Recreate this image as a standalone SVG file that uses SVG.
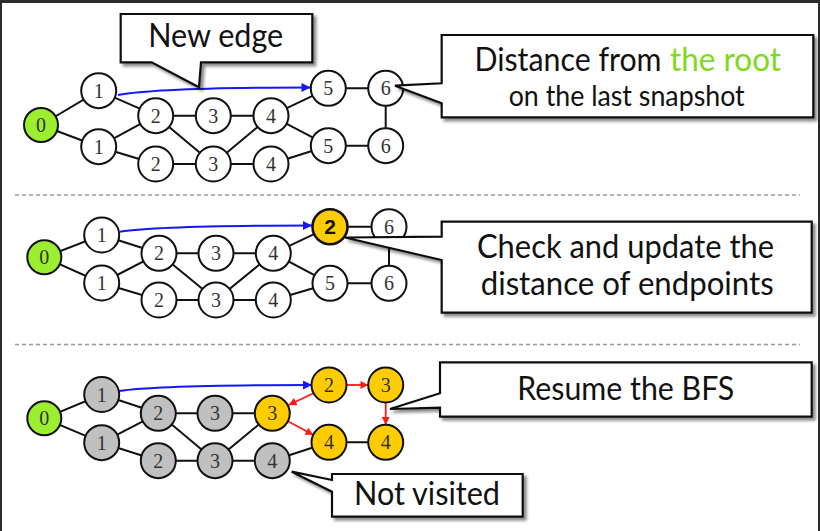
<svg xmlns="http://www.w3.org/2000/svg" width="820" height="531" viewBox="0 0 820 531">
<style>
.e{stroke:#111;stroke-width:2;fill:none}
.n{stroke:#111;stroke-width:2}
.w{fill:#fff}
.g{fill:#9bef2f}
.y{fill:#ffcc00}
.k{fill:#c0c0c0}
.t{font-family:"Liberation Serif",serif;font-size:20px;fill:#333;text-anchor:middle}
.co{fill:#fff;stroke:#111;stroke-width:2.2;stroke-linejoin:miter}
.ct{font-family:Lato,"Open Sans",sans-serif;font-size:33px;fill:#111;text-anchor:middle}
.sep{stroke:#9a9a9a;stroke-width:1.3;stroke-dasharray:4 3}
.blue{stroke:#1515ff;stroke-width:2;fill:none}
.red{stroke:#ff1a1a;stroke-width:1.8;fill:none}
</style>
<defs>
<marker id="ab" viewBox="0 0 10 10" refX="10" refY="5" markerWidth="13" markerHeight="9" markerUnits="userSpaceOnUse" orient="auto"><path d="M0,0L10,5L0,10z" fill="#1515ff"/></marker>
<marker id="ar" viewBox="0 0 10 10" refX="10" refY="5" markerWidth="11" markerHeight="8" markerUnits="userSpaceOnUse" orient="auto"><path d="M0,0L10,5L0,10z" fill="#ff1a1a"/></marker>
<filter id="sh" x="-10%" y="-10%" width="130%" height="140%"><feDropShadow dx="3" dy="3" stdDeviation="1.8" flood-color="#000" flood-opacity="0.45"/></filter>
</defs>
<rect x="0" y="0" width="820" height="531" fill="#fff"/>
<rect x="0" y="0" width="820" height="3" fill="#2b2b2b"/>
<rect x="0" y="0" width="2" height="531" fill="#2b2b2b"/>
<rect x="818" y="0" width="2" height="531" fill="#2b2b2b"/>
<g id="separators">
<line class="sep" x1="15" y1="195" x2="800" y2="195"/>
<line class="sep" x1="15" y1="344.5" x2="800" y2="344.5"/>
</g>
<g id="connectors">
<path class="e" d="M41,125L98.7,90.7M41,125L98.7,146.7M98.7,90.7L155.7,115.7M98.7,146.7L155.7,115.7M98.7,146.7L155.7,164M155.7,115.7L213.3,115.7M155.7,115.7L213.3,164M213.3,115.7L271,115.7M155.7,164L213.3,164M213.3,164L271,115.7M213.3,164L271,164M271,115.7L328.3,88.3M271,115.7L328.3,145.7M271,164L328.3,145.7M328.3,88.3L385.7,88.3M385.7,88.3L385.7,145.7M328.3,145.7L385.7,145.7"/>
<path class="blue" d="M118,95Q160,87.5 310.5,87.5" marker-end="url(#ab)"/>
<path class="e" d="M44.3,257.3L101.7,235M44.3,257.3L101.7,283M101.7,235L159,253.3M101.7,283L159,253.3M101.7,283L159,300M159,253.3L216,253.3M159,253.3L216,300M216,253.3L273.3,253.3M159,300L216,300M216,300L273.3,253.3M216,300L273.3,300M273.3,253.3L330,226.7M273.3,253.3L330,283.3M273.3,300L330,283.3M330,226.7L389,226.7M389,226.7L389,283.3M330,283.3L389,283.3"/>
<path class="blue" d="M120,231.7Q162,225.5 312,225.5" marker-end="url(#ab)"/>
<path class="e" d="M44.3,418.3L101.7,394.5M44.3,418.3L101.7,442.7M101.7,394.5L158.3,413.3M101.7,442.7L158.3,413.3M101.7,442.7L158.3,460.7M158.3,413.3L215,413.3M158.3,413.3L215,460.7M215,413.3L272.3,413.3M158.3,460.7L215,460.7M215,460.7L272.3,413.3M215,460.7L272.3,460.7M272.3,460.7L329,442.3M329,442.3L385.7,442.3"/>
<path class="blue" d="M119,391Q161,385 312,385" marker-end="url(#ab)"/>
<path class="red" d="M346.8,385L368.5,385" marker-end="url(#ar)"/>
<path class="red" d="M313.5,393.3L288.5,405" marker-end="url(#ar)"/>
<path class="red" d="M287.5,421L313.5,435" marker-end="url(#ar)"/>
<path class="red" d="M385.7,403L385.7,425" marker-end="url(#ar)"/>
</g>
<g id="panel1-nodes">
<g id="p1-n0"><circle class="n g" cx="41" cy="125" r="17"/><text class="t" x="41" y="132">0</text></g>
<g id="p1-n1a"><circle class="n w" cx="98.7" cy="90.7" r="17.5"/><text class="t" x="98.7" y="97.7">1</text></g>
<g id="p1-n1b"><circle class="n w" cx="98.7" cy="146.7" r="17.5"/><text class="t" x="98.7" y="153.7">1</text></g>
<g id="p1-n2a"><circle class="n w" cx="155.7" cy="115.7" r="17.5"/><text class="t" x="155.7" y="122.7">2</text></g>
<g id="p1-n2b"><circle class="n w" cx="155.7" cy="164" r="17.5"/><text class="t" x="155.7" y="171">2</text></g>
<g id="p1-n3a"><circle class="n w" cx="213.3" cy="115.7" r="17.5"/><text class="t" x="213.3" y="122.7">3</text></g>
<g id="p1-n3b"><circle class="n w" cx="213.3" cy="164" r="17.5"/><text class="t" x="213.3" y="171">3</text></g>
<g id="p1-n4a"><circle class="n w" cx="271" cy="115.7" r="17.5"/><text class="t" x="271" y="122.7">4</text></g>
<g id="p1-n4b"><circle class="n w" cx="271" cy="164" r="17.5"/><text class="t" x="271" y="171">4</text></g>
<g id="p1-n5a"><circle class="n w" cx="328.3" cy="88.3" r="17.5"/><text class="t" x="328.3" y="95.3">5</text></g>
<g id="p1-n5b"><circle class="n w" cx="328.3" cy="145.7" r="17.5"/><text class="t" x="328.3" y="152.7">5</text></g>
<g id="p1-n6a"><circle class="n w" cx="385.7" cy="88.3" r="17.5"/><text class="t" x="385.7" y="95.3">6</text></g>
<g id="p1-n6b"><circle class="n w" cx="385.7" cy="145.7" r="17.5"/><text class="t" x="385.7" y="152.7">6</text></g>
</g>
<g id="panel2-nodes">
<g id="p2-n0"><circle class="n g" cx="44.3" cy="257.3" r="17"/><text class="t" x="44.3" y="264.3">0</text></g>
<g id="p2-n1a"><circle class="n w" cx="101.7" cy="235" r="17.5"/><text class="t" x="101.7" y="242">1</text></g>
<g id="p2-n1b"><circle class="n w" cx="101.7" cy="283" r="17.5"/><text class="t" x="101.7" y="290">1</text></g>
<g id="p2-n2a"><circle class="n w" cx="159" cy="253.3" r="17.5"/><text class="t" x="159" y="260.3">2</text></g>
<g id="p2-n2b"><circle class="n w" cx="159" cy="300" r="17.5"/><text class="t" x="159" y="307">2</text></g>
<g id="p2-n3a"><circle class="n w" cx="216" cy="253.3" r="17.5"/><text class="t" x="216" y="260.3">3</text></g>
<g id="p2-n3b"><circle class="n w" cx="216" cy="300" r="17.5"/><text class="t" x="216" y="307">3</text></g>
<g id="p2-n4a"><circle class="n w" cx="273.3" cy="253.3" r="17.5"/><text class="t" x="273.3" y="260.3">4</text></g>
<g id="p2-n4b"><circle class="n w" cx="273.3" cy="300" r="17.5"/><text class="t" x="273.3" y="307">4</text></g>
<g id="p2-n5a"><circle class="y" cx="330" cy="226.7" r="17.5" stroke="#111" stroke-width="2.6"/><text x="330" y="234" font-family="Liberation Sans,Arial,sans-serif" font-size="21" font-weight="bold" fill="#111" text-anchor="middle">2</text></g>
<g id="p2-n5b"><circle class="n w" cx="330" cy="283.3" r="17.5"/><text class="t" x="330" y="290.3">5</text></g>
<g id="p2-n6a"><circle class="n w" cx="389" cy="226.7" r="17.5"/><text class="t" x="389" y="233.7">6</text></g>
<g id="p2-n6b"><circle class="n w" cx="389" cy="283.3" r="17.5"/><text class="t" x="389" y="290.3">6</text></g>
</g>
<g id="panel3-nodes">
<g id="p3-n0"><circle class="n g" cx="44.3" cy="418.3" r="17"/><text class="t" x="44.3" y="425.3">0</text></g>
<g id="p3-n1a"><circle class="n k" cx="101.7" cy="394.5" r="17.5"/><text class="t" x="101.7" y="401.5">1</text></g>
<g id="p3-n1b"><circle class="n k" cx="101.7" cy="442.7" r="17.5"/><text class="t" x="101.7" y="449.7">1</text></g>
<g id="p3-n2a"><circle class="n k" cx="158.3" cy="413.3" r="17.5"/><text class="t" x="158.3" y="420.3">2</text></g>
<g id="p3-n2b"><circle class="n k" cx="158.3" cy="460.7" r="17.5"/><text class="t" x="158.3" y="467.7">2</text></g>
<g id="p3-n3a"><circle class="n k" cx="215" cy="413.3" r="17.5"/><text class="t" x="215" y="420.3">3</text></g>
<g id="p3-n3b"><circle class="n k" cx="215" cy="460.7" r="17.5"/><text class="t" x="215" y="467.7">3</text></g>
<g id="p3-n4a"><circle class="n y" cx="272.3" cy="413.3" r="17.5"/><text class="t" x="272.3" y="420.3">3</text></g>
<g id="p3-n4b"><circle class="n k" cx="272.3" cy="460.7" r="17.5"/><text class="t" x="272.3" y="467.7">4</text></g>
<g id="p3-n5a"><circle class="n y" cx="329" cy="385" r="17.5"/><text class="t" x="329" y="392">2</text></g>
<g id="p3-n5b"><circle class="n y" cx="329" cy="442.3" r="17.5"/><text class="t" x="329" y="449.3">4</text></g>
<g id="p3-n6a"><circle class="n y" cx="385.7" cy="385" r="17.5"/><text class="t" x="385.7" y="392">3</text></g>
<g id="p3-n6b"><circle class="n y" cx="385.7" cy="442.3" r="17.5"/><text class="t" x="385.7" y="449.3">4</text></g>
</g>
<g id="callout-new-edge">
<polygon class="co" filter="url(#sh)" points="120.7,14 312.3,14 312.3,62.3 201,62.3 199,87.3 151.7,62.3 120.7,62.3"/>
<text class="ct" x="215.7" y="47" textLength="135" lengthAdjust="spacingAndGlyphs">New edge</text>
</g>
<g id="callout-distance">
<polygon class="co" filter="url(#sh)" points="441.7,35 813.3,35 813.3,117.3 441.7,117.3 441.7,103.3 395,85.7 441.7,83.3"/>
<text class="ct" x="474.5" y="71" style="text-anchor:start" textLength="187" lengthAdjust="spacingAndGlyphs">Distance from</text>
<text class="ct" x="670" y="71" style="text-anchor:start;fill:#80d820" textLength="111" lengthAdjust="spacingAndGlyphs">the root</text>
<text class="ct" x="626.7" y="106" style="font-size:28px" textLength="236" lengthAdjust="spacingAndGlyphs">on the last snapshot</text>
</g>
<g id="callout-check">
<polygon class="co" filter="url(#sh)" points="441.7,221.7 811.7,221.7 811.7,312.7 441.7,312.7 441.7,260 345,237.5 441.7,236.7"/>
<text class="ct" x="625.5" y="258" textLength="297" lengthAdjust="spacingAndGlyphs">Check and update the</text>
<text class="ct" x="627.2" y="295" textLength="293" lengthAdjust="spacingAndGlyphs">distance of endpoints</text>
</g>
<g id="callout-resume">
<polygon class="co" filter="url(#sh)" points="440,362.3 811.7,362.3 811.7,416.7 440,416.7 440,407.7 390,409 440,393.3"/>
<text class="ct" x="625.8" y="399.5" textLength="217" lengthAdjust="spacingAndGlyphs">Resume the BFS</text>
</g>
<g id="callout-not-visited">
<polygon class="co" filter="url(#sh)" points="332,474 522.7,474 522.7,516.7 332,516.7 332,491.7 291.7,471.7 332,480"/>
<text class="ct" x="427" y="505" textLength="146" lengthAdjust="spacingAndGlyphs">Not visited</text>
</g>
</svg>
